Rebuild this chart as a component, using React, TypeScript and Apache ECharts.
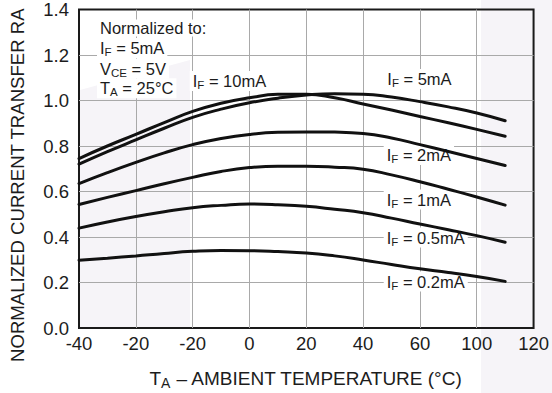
import React, { useEffect, useRef } from 'react';
import * as echarts from 'echarts';

// Ambient temperature (axis units) at which each curve is sampled
const temperatures = [-40, -30, -20, -10, 0, 10, 20, 30, 40, 50, 60, 70, 80, 90, 100, 110];

// Normalized current transfer ratio per forward current
const ctr10mA = [0.745, 0.8, 0.851, 0.903, 0.952, 0.988, 1.012, 1.027, 1.028, 1.012, 0.985, 0.958, 0.93, 0.902, 0.873, 0.843];
const ctr5mA = [0.72, 0.775, 0.827, 0.878, 0.926, 0.962, 0.99, 1.01, 1.024, 1.03, 1.028, 1.015, 0.995, 0.972, 0.945, 0.911];
const ctr2mA = [0.635, 0.683, 0.728, 0.77, 0.806, 0.833, 0.851, 0.86, 0.862, 0.861, 0.855, 0.835, 0.806, 0.776, 0.745, 0.714];
const ctr1mA = [0.543, 0.574, 0.604, 0.634, 0.662, 0.688, 0.705, 0.711, 0.711, 0.707, 0.698, 0.673, 0.643, 0.61, 0.576, 0.54];
const ctr05mA = [0.439, 0.466, 0.49, 0.511, 0.529, 0.539, 0.545, 0.542, 0.535, 0.522, 0.507, 0.483, 0.457, 0.432, 0.406, 0.377];
const ctr02mA = [0.298, 0.307, 0.317, 0.328, 0.337, 0.341, 0.34, 0.336, 0.33, 0.317, 0.299, 0.279, 0.26, 0.244, 0.226, 0.205];

const seriesNames = ['IF = 10mA', 'IF = 5mA', 'IF = 2mA', 'IF = 1mA', 'IF = 0.5mA', 'IF = 0.2mA'];
const seriesValues = [ctr10mA, ctr5mA, ctr2mA, ctr1mA, ctr05mA, ctr02mA];

// Tick labels exactly as printed on the original figure
const xTickLabels = ['-40', '-20', '-20', '0', '20', '40', '60', '100', '120'];
const yTickLabels = ['0.0', '0.2', '0.4', '0.6', '0.8', '1.0', '1.2', '1.4'];

const FONT = "'Liberation Sans', Arial, Helvetica, sans-serif";
const INK = '#1c1c1c';

const label = (x: number, cy: number, text: string) => ({
  type: 'text',
  x,
  y: cy,
  z: 1,
  silent: true,
  style: {
    text,
    align: 'left',
    verticalAlign: 'middle',
    fontSize: 16.5,
    fontFamily: FONT,
    fill: INK,
    backgroundColor: '#ffffff',
    padding: [0, 3],
    rich: {
      m: { fontSize: 16.5, fontFamily: FONT, fill: INK, lineHeight: 20 },
      s: { fontSize: 11.5, fontFamily: FONT, fill: INK, lineHeight: 12, verticalAlign: 'bottom' },
    },
  },
});

export default function App() {
  const ref = useRef<HTMLDivElement>(null);

  useEffect(() => {
    if (!ref.current) return;
    const chart = echarts.init(ref.current, undefined, { renderer: 'svg' });
    const wm = '#f6f4f8';
    chart.setOption({
      animation: false,
      backgroundColor: '#ffffff',
      grid: {
        left: 79,
        right: 15,
        top: 5,
        bottom: 65,
        show: true,
        borderColor: '#1a1a1a',
        borderWidth: 2,
        backgroundColor: 'transparent',
      },
      xAxis: {
        type: 'value',
        min: -40,
        max: 120,
        interval: 20,
        axisLine: { show: false },
        axisTick: { show: false },
        splitLine: { show: true, showMinLine: false, showMaxLine: false, lineStyle: { color: '#a9a9a9', width: 1 } },
        axisLabel: {
          margin: 6,
          fontSize: 18.5,
          fontFamily: FONT,
          color: INK,
          showMinLabel: true,
          showMaxLabel: true,
          formatter: (v: number) => xTickLabels[Math.round((v + 40) / 20)] ?? '',
        },
      },
      yAxis: {
        type: 'value',
        min: 0,
        max: 1.4,
        interval: 0.2,
        axisLine: { show: false },
        axisTick: { show: false },
        splitLine: { show: true, showMinLine: false, showMaxLine: false, lineStyle: { color: '#a9a9a9', width: 1 } },
        axisLabel: {
          margin: 10,
          fontSize: 18.5,
          fontFamily: FONT,
          color: INK,
          showMinLabel: true,
          showMaxLabel: true,
          formatter: (v: number) => yTickLabels[Math.round(v / 0.2)] ?? '',
        },
      },
      series: seriesValues.map((vals, i) => ({
        name: seriesNames[i],
        type: 'line',
        z: 3,
        smooth: 0.5,
        showSymbol: false,
        symbol: 'none',
        lineStyle: { color: '#111111', width: 3, cap: 'round' },
        data: temperatures.map((t, j) => [t, vals[j]]),
      })),
      graphic: [
        { type: 'polygon', z: -10, silent: true, shape: { points: [[481, 0], [552, 0], [552, 393], [481, 393]] }, style: { fill: wm } },
        { type: 'polygon', z: -10, silent: true, shape: { points: [[80, 90], [190, 60], [190, 327], [80, 327]] }, style: { fill: wm } },
        label(97, 28, 'Normalized to:'),
        label(97, 48, '{m|I}{s|F}{m| = 5mA}'),
        label(97, 68.5, '{m|V}{s|CE}{m| = 5V}'),
        label(97, 88.3, '{m|T}{s|A}{m| = 25°C}'),
        label(189.7, 81, '{m|I}{s|F}{m| = 10mA}'),
        label(384.3, 79, '{m|I}{s|F}{m| = 5mA}'),
        label(383.7, 155, '{m|I}{s|F}{m| = 2mA}'),
        label(383.7, 199.5, '{m|I}{s|F}{m| = 1mA}'),
        label(383.7, 237.5, '{m|I}{s|F}{m| = 0.5mA}'),
        label(383.7, 281.5, '{m|I}{s|F}{m| = 0.2mA}'),
        {
          type: 'text',
          x: 306,
          y: 378.3,
          silent: true,
          style: {
            text: '{m|T}{s|A}{m| – AMBIENT TEMPERATURE (°C)}',
            align: 'center',
            verticalAlign: 'middle',
            fontSize: 19,
            fontFamily: FONT,
            fill: INK,
            rich: {
              m: { fontSize: 19, fontFamily: FONT, fill: INK, lineHeight: 24 },
              s: { fontSize: 14, fontFamily: FONT, fill: INK, lineHeight: 14, verticalAlign: 'bottom' },
            },
          },
        },
        {
          type: 'text',
          x: 17.5,
          y: 362,
          rotation: Math.PI / 2,
          silent: true,
          style: {
            text: 'NORMALIZED CURRENT TRANSFER RA',
            align: 'left',
            verticalAlign: 'middle',
            fontSize: 18.6,
            fontFamily: FONT,
            fill: INK,
          },
        },
      ],
    });
    return () => chart.dispose();
  }, []);

  return <div ref={ref} style={{ position: 'fixed', left: 0, top: 0, width: 552, height: 393 }} />;
}
